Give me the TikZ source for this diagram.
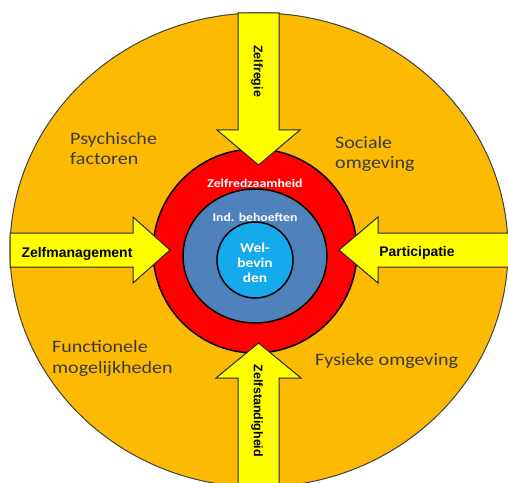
\documentclass[tikz,border=0pt]{standalone}
\usepackage{fontspec}
\setmainfont{Carlito}
\newfontfamily\calfont[FakeStretch=1.15]{Carlito}
\newfontfamily\arialfont{Liberation Sans}
\usetikzlibrary{positioning}

\definecolor{ringorange}{RGB}{252,186,3}
\definecolor{ringred}{RGB}{255,0,0}
\definecolor{ringblue}{RGB}{79,129,189}
\definecolor{corelight}{RGB}{20,170,235}
\definecolor{arrowyellow}{RGB}{255,255,0}
\definecolor{txtgray}{RGB}{58,58,58}

\begin{document}
\begin{tikzpicture}[x=1bp, y=-1bp,
  ring/.style={draw=black, line width=1.5bp},
  fat/.style={draw=black!85, line width=1bp, fill=arrowyellow, line join=miter},
  area/.style={font=\calfont\fontsize{17.5}{21}\selectfont, text=txtgray, align=left, inner sep=0pt, anchor=base west},
  flow/.style={font=\arialfont\bfseries\fontsize{14}{16}\selectfont, inner sep=0pt},
  core/.style={font=\calfont\bfseries\fontsize{12}{14}\selectfont, text=white, inner sep=0pt, align=center}
]
\useasboundingbox (0,0) rectangle (508,483);
\clip (0,0) rectangle (508,483);

% outer field and rings
\draw[fill=ringorange, draw=black!75, line width=1bp] (259,250) ellipse [x radius=249, y radius=237];
\draw[ring, fill=ringred] (255,251) circle [radius=102];
\draw[ring, fill=ringblue] (255,256) ellipse [x radius=72, y radius=67];
\draw[ring, fill=corelight] (255,260) circle [radius=38];

% the four big arrows
\draw[fat] (238,13) -- (238,130) -- (217,130) -- (258.5,165) -- (300,130) -- (279,130) -- (279,13) -- cycle;
\draw[fat] (238,490) -- (238,378) -- (216,378) -- (258.5,343) -- (301,378) -- (279,378) -- (279,490) -- cycle;
\draw[fat] (10,233) -- (133,233) -- (133,217) -- (170,250) -- (133,283) -- (133,267) -- (10,267) -- cycle;
\draw[fat] (510,233) -- (378,233) -- (378,217) -- (339,250) -- (378,283) -- (378,267) -- (510,267) -- cycle;

% labels (base = last line)
\node[area] (psych) at (70,165) {Psychische\\factoren};
\node[area] (sociaal) at (335,169) {Sociale\\omgeving};
\node[area] (functie) at (52,373) {Functionele\\mogelijkheden};
\node[area] (fysiek) at (315,365) {Fysieke omgeving};

\node[flow, anchor=base] (mgmt) at (77,257) {Zelfmanagement};
\node[flow, anchor=base] (partic) at (417,256) {Participatie};
\node[flow, font=\arialfont\bfseries\fontsize{12.5}{15}\selectfont, rotate=-90] (regie) at (257,71) {Zelfregie};
\node[flow, font=\arialfont\bfseries\fontsize{12.5}{15}\selectfont, rotate=-90] (standig) at (257,411) {Zelfstandigheid};

\node[core, anchor=base] (redzaam) at (255,188) {Zelfredzaamheid};
\node[core, anchor=base] (behoefte) at (255,221) {Ind. behoeften};
\node[core, font=\calfont\bfseries\fontsize{13.5}{15}\selectfont, anchor=base] (welzijn) at (255,282) {Wel-\\bevin\\den};
\end{tikzpicture}
\end{document}
